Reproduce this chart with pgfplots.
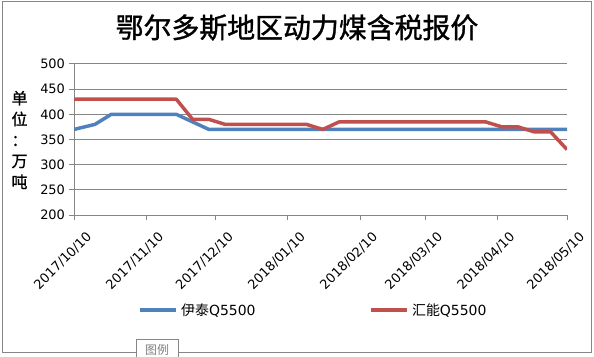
\documentclass[border=0pt]{standalone}
\usepackage{pgfplots}
\pgfplotsset{compat=1.18}
\usepackage{fontspec}
\setmainfont{DejaVu Sans}
\newfontfamily\cjk{Noto Sans CJK SC}
\newfontfamily\cjkb[FakeBold=1.2]{Noto Sans CJK SC}
\definecolor{xlblue}{HTML}{4F81BD}
\definecolor{xlred}{HTML}{C0504D}
\definecolor{gridg}{HTML}{868686}
\begin{document}
\begin{tikzpicture}
\useasboundingbox (0bp,0bp) rectangle (594bp,357bp);
\draw[gridg, line width=1bp] (2.5bp,4.5bp) rectangle (591bp,355bp);
\begin{axis}[
  at={(74bp,142bp)}, anchor=south west,
  scale only axis, width=493bp, height=151bp,
  xmin=0, xmax=212, ymin=200, ymax=500,
  ytick={200,250,...,500},
  xtick={0,31,61,92,123,151,182,212},
  xticklabels={2017/10/10,2017/11/10,2017/12/10,2018/01/10,2018/02/10,2018/03/10,2018/04/10,2018/05/10},
  axis line style={gridg, line width=1bp},
  axis x line*=bottom, axis y line*=left,
  ymajorgrids, grid style={gridg, line width=1bp},
  tick style={gridg, line width=1bp},
  tick align=outside, major tick length=5bp,
  ticklabel style={font=\fontsize{13}{14}\selectfont},
  xticklabel style={rotate=45, anchor=north east, xshift=4bp, yshift=-12bp},
  yticklabel style={xshift=-0.5bp},
  /pgf/number format/assume math mode=true,
  legend columns=2,
  legend style={at={(0.1298,-0.629)}, anchor=west, draw=none, fill=none,
    inner sep=0pt, font=\fontsize{14}{16}\selectfont,
    /tikz/every even column/.append style={column sep=110bp},
    nodes={inner sep=3.5bp}},
  legend image code/.code={\draw[#1, line width=3.5bp] (0bp,0bp) -- (36bp,0bp);},
]
\addplot[xlblue, line width=3.5bp, line join=round] coordinates {
(0,370)(9,380)(16,400)(23,400)(30,400)(37,400)(44,400)(51,385)(58,370)(65,370)
(72,370)(79,370)(86,370)(93,370)(100,370)(107,370)(114,370)(121,370)(128,370)
(135,370)(142,370)(149,370)(156,370)(163,370)(170,370)(177,370)(184,370)(191,370)
(198,370)(205,370)(212,370)};
\addlegendentry{{\cjk 伊泰}Q5500}
\addplot[xlred, line width=3.5bp, line join=round] coordinates {
(0,430)(9,430)(16,430)(23,430)(30,430)(37,430)(44,430)(51,390)(58,390)(65,380)
(72,380)(79,380)(86,380)(93,380)(100,380)(107,370)(114,385)(121,385)(128,385)
(135,385)(142,385)(149,385)(156,385)(163,385)(170,385)(177,385)(184,375)(191,375)
(198,365)(205,365)(212,330)};
\addlegendentry{{\cjk 汇能}Q5500}
\end{axis}
\node[font=\cjkb\fontsize{28}{30}\selectfont] at (297bp,329.5bp) {鄂尔多斯地区动力煤含税报价};
\node[font=\cjkb\fontsize{16}{21}\selectfont, align=center] at (19.5bp,217bp) {单\\位\\：\\万\\吨};
\draw[gridg, line width=1bp, fill=white] (136bp,-2bp) rectangle (178.5bp,17bp);
\node[font=\cjk\fontsize{12}{14}\selectfont, text=gray] at (157bp,7bp) {图例};
\end{tikzpicture}
\end{document}
